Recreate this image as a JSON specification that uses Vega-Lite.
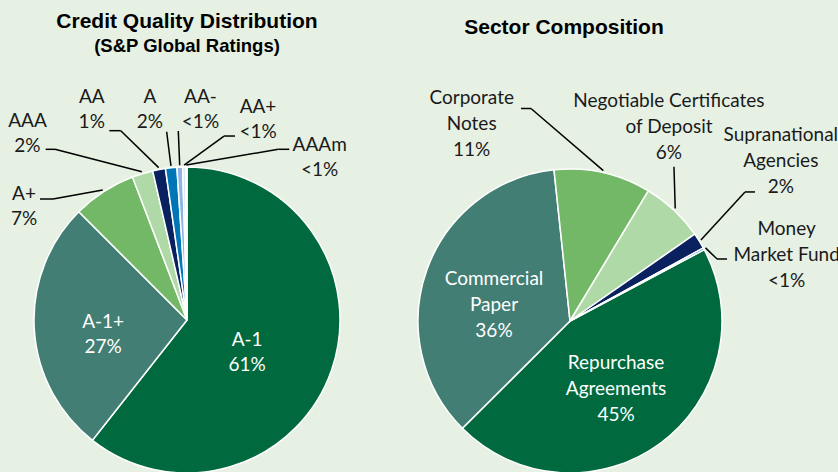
{
  "$schema": "https://vega.github.io/schema/vega-lite/v6.json",
  "background": "#E6F1E4",
  "autosize": {"type": "none"},
  "padding": {"left": 34, "top": 167, "right": 804, "bottom": 305},
  "bounds": "flush",
  "spacing": 78,
  "resolve": {"scale": {"theta": "independent", "color": "independent"}},
  "config": {
    "view": {"stroke": null},
    "title": {"font": "Liberation Sans", "fontSize": 21, "fontWeight": "bold", "color": "#000000", "subtitleFont": "Liberation Sans", "subtitleFontSize": 18.5, "subtitleFontWeight": "bold", "subtitleColor": "#000000", "subtitlePadding": 5}
  },
  "hconcat": [
    {
      "width": 306,
      "height": 306,
      "title": {"text": "Credit Quality Distribution", "subtitle": "(S&P Global Ratings)", "frame": "group", "offset": 32},
      "data": {"values": [
        {"label": "A-1", "value": 60.6, "text": "A-1\n61%"},
        {"label": "A-1+", "value": 26.9, "text": "A-1+\n27%"},
        {"label": "A+", "value": 6.7, "text": "A+\n7%"},
        {"label": "AAA", "value": 2.2, "text": "AAA\n2%"},
        {"label": "AA", "value": 1.35, "text": "AA\n1%"},
        {"label": "A", "value": 1.2, "text": "A\n2%"},
        {"label": "AA-", "value": 0.6, "text": "AA-\n<1%"},
        {"label": "AA+", "value": 0.3, "text": "AA+\n<1%"},
        {"label": "AAAm", "value": 0.15, "text": "AAAm\n<1%"}
      ]},
      "layer": [
        {
          "mark": {"type": "arc", "stroke": "#ffffff", "strokeWidth": 1.5},
          "encoding": {
            "theta": {"field": "value", "type": "quantitative", "stack": true, "scale": {"range": [0, 6.283185]}},
            "order": {"field": "value", "type": "quantitative", "sort": "descending"},
            "color": {"field": "label", "type": "nominal", "legend": null,
              "scale": {"domain": ["A-1", "A-1+", "A+", "AAA", "AA", "A", "AA-", "AA+", "AAAm"],
                        "range": ["#006A3E", "#427E73", "#73B866", "#B0D9A8", "#0A2160", "#0076B6", "#8DB4E2", "#D9E3F0", "#F4F4F4"]}}
          }
        },
        {
          "transform": [
            {"stack": "value", "groupby": [], "sort": [{"field": "value", "order": "descending"}], "as": ["v0", "v1"]},
            {"filter": {"field": "label", "oneOf": ["A+", "AAA", "AA", "A", "AA-", "AA+", "AAAm"]}}
          ],
          "mark": {"type": "rule", "stroke": "#000000", "strokeWidth": 1.5},
          "encoding": {
            "x": {"value": {"expr": "153 + 155*sin(PI*(datum.v0+datum.v1)/100)"}},
            "y": {"value": {"expr": "153 - 155*cos(PI*(datum.v0+datum.v1)/100)"}},
            "x2": {"value": {"expr": "153 + 153*sin(PI*(datum.v0+datum.v1)/100) + [-50.8,-87.5,-38.3,-4.5,-1.5,39.9,92][indexof(['A+','AAA','AA','A','AA-','AA+','AAAm'], datum.label)]"}},
            "y2": {"value": {"expr": "153 - 153*cos(PI*(datum.v0+datum.v1)/100) + [7.4,-24.3,-38.9,-36.1,-36.2,-31,-17.7][indexof(['A+','AAA','AA','A','AA-','AA+','AAAm'], datum.label)]"}}
          }
        },
        {
          "transform": [
            {"stack": "value", "groupby": [], "sort": [{"field": "value", "order": "descending"}], "as": ["v0", "v1"]},
            {"filter": {"field": "label", "oneOf": ["A+", "AAA", "AA", "AA+", "AAAm"]}}
          ],
          "mark": {"type": "rule", "stroke": "#000000", "strokeWidth": 1.5},
          "encoding": {
            "x": {"value": {"expr": "153 + 153*sin(PI*(datum.v0+datum.v1)/100) + [-50.8,-87.5,-38.3,-4.5,-1.5,39.9,92][indexof(['A+','AAA','AA','A','AA-','AA+','AAAm'], datum.label)]"}},
            "y": {"value": {"expr": "153 - 153*cos(PI*(datum.v0+datum.v1)/100) + [7.4,-24.3,-38.9,-36.1,-36.2,-31,-17.7][indexof(['A+','AAA','AA','A','AA-','AA+','AAAm'], datum.label)]"}},
            "x2": {"value": {"expr": "153 + 153*sin(PI*(datum.v0+datum.v1)/100) + [-50.8,-87.5,-38.3,-4.5,-1.5,39.9,92][indexof(['A+','AAA','AA','A','AA-','AA+','AAAm'], datum.label)] + [-13,-9.3,-11.4,0,0,11,11][indexof(['A+','AAA','AA','A','AA-','AA+','AAAm'], datum.label)]"}},
            "y2": {"value": {"expr": "153 - 153*cos(PI*(datum.v0+datum.v1)/100) + [7.4,-24.3,-38.9,-36.1,-36.2,-31,-17.7][indexof(['A+','AAA','AA','A','AA-','AA+','AAAm'], datum.label)]"}}
          }
        },
        {
          "mark": {"type": "text", "font": "Lato", "fontSize": 19, "lineBreak": "\n", "lineHeight": 25, "align": "center", "baseline": "middle",
            "radius": {"expr": "[70,84,153,153,153,153,153,153,153][indexof(['A-1','A-1+','A+','AAA','AA','A','AA-','AA+','AAAm'], datum.label)]"},
            "dx": {"expr": "[-6,0,-79.8,-115,-67.3,-21.2,20.7,73.9,133.4][indexof(['A-1','A-1+','A+','AAA','AA','A','AA-','AA+','AAAm'], datum.label)]"},
            "dy": {"expr": "[-3,-3,2.9,-53.1,-72.6,-70.8,-70.2,-60,-21.8][indexof(['A-1','A-1+','A+','AAA','AA','A','AA-','AA+','AAAm'], datum.label)]"},
            "fill": {"expr": "indexof(['A-1','A-1+'], datum.label) >= 0 ? '#ffffff' : '#1a1a1a'"}},
          "encoding": {
            "theta": {"field": "value", "type": "quantitative", "stack": true, "scale": {"range": [0, 6.283185]}},
            "order": {"field": "value", "type": "quantitative", "sort": "descending"},
            "text": {"field": "text", "type": "nominal"}
          }
        }
      ]
    },
    {
      "width": 304,
      "height": 308,
      "title": {"text": "Sector Composition", "frame": "group", "offset": 51, "dx": -6},
      "data": {"values": [
        {"label": "Repo", "value": 45.3, "text": "Repurchase\nAgreements\n45%"},
        {"label": "CP", "value": 35.8, "text": "Commercial\nPaper\n36%"},
        {"label": "CN", "value": 10.3, "text": "Corporate\nNotes\n11%"},
        {"label": "NCD", "value": 6.7, "text": "Negotiable Certificates\nof Deposit\n6%"},
        {"label": "Supra", "value": 1.7, "text": "Supranational\nAgencies\n2%"},
        {"label": "MMF", "value": 0.2, "text": "Money\nMarket Fund\n<1%"}
      ]},
      "layer": [
        {
          "mark": {"type": "arc", "stroke": "#ffffff", "strokeWidth": 1.5},
          "encoding": {
            "theta": {"field": "value", "type": "quantitative", "stack": true, "scale": {"range": [1.0821, 7.365285]}},
            "order": {"field": "value", "type": "quantitative", "sort": "descending"},
            "color": {"field": "label", "type": "nominal", "legend": null,
              "scale": {"domain": ["Repo", "CP", "CN", "NCD", "Supra", "MMF"],
                        "range": ["#006A3E", "#427E73", "#73B866", "#B0D9A8", "#0A2160", "#0076B6"]}}
          }
        },
        {
          "transform": [
            {"stack": "value", "groupby": [], "sort": [{"field": "value", "order": "descending"}], "as": ["v0", "v1"]},
            {"filter": {"field": "label", "oneOf": ["CN", "NCD", "Supra", "MMF"]}}
          ],
          "mark": {"type": "rule", "stroke": "#000000", "strokeWidth": 1.5},
          "encoding": {
            "x": {"value": {"expr": "152 + 154*sin(1.0821 + PI*(datum.v0+datum.v1)/100)"}},
            "y": {"value": {"expr": "154 - 154*cos(1.0821 + PI*(datum.v0+datum.v1)/100)"}},
            "x2": {"value": {"expr": "152 + 152*sin(1.0821 + PI*(datum.v0+datum.v1)/100) + [-71.9,0.1,45.8,13.3][indexof(['CN','NCD','Supra','MMF'], datum.label)]"}},
            "y2": {"value": {"expr": "154 - 152*cos(1.0821 + PI*(datum.v0+datum.v1)/100) + [-64.1,-43.3,-49,10.2][indexof(['CN','NCD','Supra','MMF'], datum.label)]"}}
          }
        },
        {
          "transform": [
            {"stack": "value", "groupby": [], "sort": [{"field": "value", "order": "descending"}], "as": ["v0", "v1"]},
            {"filter": {"field": "label", "oneOf": ["CN", "Supra", "MMF"]}}
          ],
          "mark": {"type": "rule", "stroke": "#000000", "strokeWidth": 1.5},
          "encoding": {
            "x": {"value": {"expr": "152 + 152*sin(1.0821 + PI*(datum.v0+datum.v1)/100) + [-71.9,0.1,45.8,13.3][indexof(['CN','NCD','Supra','MMF'], datum.label)]"}},
            "y": {"value": {"expr": "154 - 152*cos(1.0821 + PI*(datum.v0+datum.v1)/100) + [-64.1,-43.3,-49,10.2][indexof(['CN','NCD','Supra','MMF'], datum.label)]"}},
            "x2": {"value": {"expr": "152 + 152*sin(1.0821 + PI*(datum.v0+datum.v1)/100) + [-71.9,0.1,45.8,13.3][indexof(['CN','NCD','Supra','MMF'], datum.label)] + [-10,0,10,10][indexof(['CN','NCD','Supra','MMF'], datum.label)]"}},
            "y2": {"value": {"expr": "154 - 152*cos(1.0821 + PI*(datum.v0+datum.v1)/100) + [-64.1,-43.3,-49,10.2][indexof(['CN','NCD','Supra','MMF'], datum.label)]"}}
          }
        },
        {
          "mark": {"type": "text", "font": "Lato", "fontSize": 19, "lineBreak": "\n", "lineHeight": 26, "align": "center", "baseline": "middle",
            "radius": {"expr": "[80,78,152,152,152,152][indexof(['Repo','CP','CN','NCD','Supra','MMF'], datum.label)]"},
            "dx": {"expr": "[-1.5,-2.5,-131.2,-4.9,81.6,82.9][indexof(['Repo','CP','CN','NCD','Supra','MMF'], datum.label)]"},
            "dy": {"expr": "[-22.5,-15.5,-74.4,-109,-105.5,-19.3][indexof(['Repo','CP','CN','NCD','Supra','MMF'], datum.label)]"},
            "fill": {"expr": "indexof(['Repo','CP'], datum.label) >= 0 ? '#ffffff' : '#1a1a1a'"}},
          "encoding": {
            "theta": {"field": "value", "type": "quantitative", "stack": true, "scale": {"range": [1.0821, 7.365285]}},
            "order": {"field": "value", "type": "quantitative", "sort": "descending"},
            "text": {"field": "text", "type": "nominal"}
          }
        }
      ]
    }
  ]
}
